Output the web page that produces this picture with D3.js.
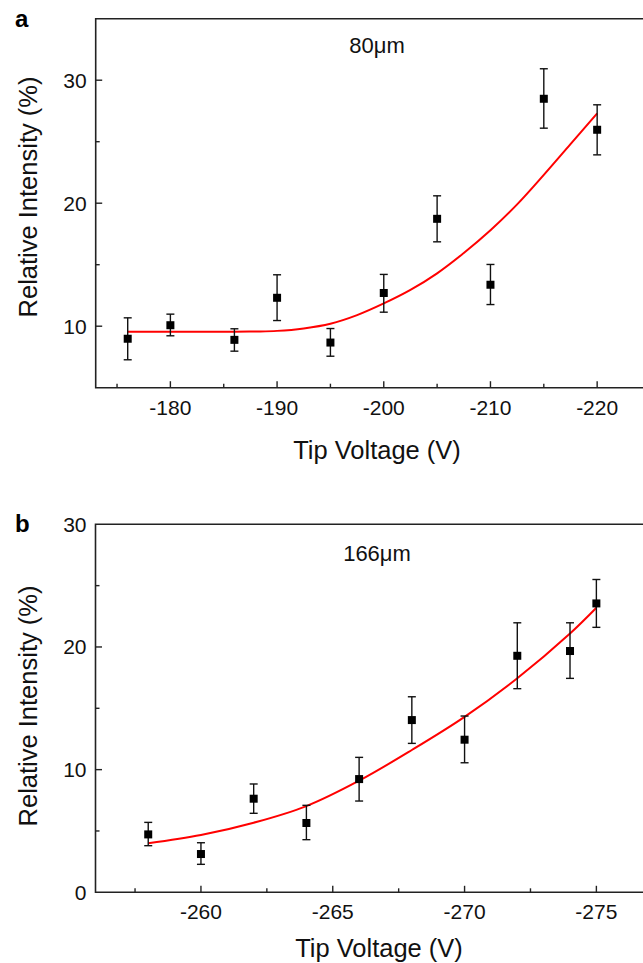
<!DOCTYPE html>
<html>
<head>
<meta charset="utf-8">
<script src="https://cdn.jsdelivr.net/npm/d3@7"></script>
<style>
  body { margin: 0; background: #fff; }
  svg { display: block; font-family: "Liberation Sans", Arial, sans-serif; }
</style>
</head>
<body>
<svg id="chart" width="643" height="963"></svg>
<script>
// panel a: 80 um
const voltageA = [-176, -180, -186, -190, -195, -200, -205, -210, -215, -220];
const intensityA = [8.98, 10.08, 8.89, 12.31, 8.67, 12.7, 18.73, 13.37, 28.49, 25.97];
const errLowA = [7.27, 9.22, 7.97, 10.46, 7.56, 11.14, 16.86, 11.76, 26.1, 23.93];
const errHighA = [10.68, 10.98, 9.79, 14.18, 9.81, 14.21, 20.6, 15.02, 30.93, 28.0];
const fitVoltageA = [-176, -186, -188, -190, -192.5, -195, -197.5, -200, -202.5, -205, -207.5, -210, -212.5, -215, -217.5, -220];
const fitIntensityA = [9.55, 9.55, 9.57, 9.62, 9.82, 10.2, 10.9, 11.85, 12.95, 14.3, 15.95, 17.8, 19.9, 22.3, 24.8, 27.3];
const xTicksA = [-180, -190, -200, -210, -220];
const yTicksA = [10, 20, 30];

// panel b: 166 um
const voltageB = [-258, -260, -262, -264, -266, -268, -270, -272, -274, -275];
const intensityB = [4.72, 3.12, 7.63, 5.65, 9.23, 14.04, 12.44, 19.28, 19.67, 23.55];
const errLowB = [3.8, 2.28, 6.44, 4.29, 7.44, 12.14, 10.56, 16.6, 17.44, 21.6];
const errHighB = [5.7, 4.04, 8.83, 7.09, 11.0, 15.94, 14.37, 21.97, 21.97, 25.5];
const fitVoltageB = [-258, -260, -262, -264, -266, -268, -270, -272, -274, -275];
const fitIntensityB = [4.0, 4.67, 5.67, 7.03, 9.1, 11.6, 14.3, 17.45, 21.1, 23.2];
const xTicksB = [-260, -265, -270, -275];
const yTicksB = [0, 10, 20, 30];

const svg = d3.select("#chart");
const axisColor = "#222";
const fitColor = "#ff0000";

function drawPanel(p) {
    const g = svg.append("g");
    const x = d3.scaleLinear().domain(p.xDomain).range([p.left, p.right]);
    const y = d3.scaleLinear().domain(p.yDomain).range([p.bottom, p.top]);

    // frame: left, top and bottom (right side runs off the page)
    g.append("path")
        .attr("d", `M${p.right},${p.top}H${p.left}V${p.bottom}H${p.right}`)
        .attr("fill", "none")
        .attr("stroke", axisColor)
        .attr("stroke-width", 1.6);

    // x ticks, pointing inwards (minor ticks halfway between labels)
    const half = p.xStep / 2;
    const xAll = d3.range(Math.ceil(p.xDomain[1] / half) * half, p.xDomain[0], half)
        .filter(v => v > p.xDomain[1] && v < p.xDomain[0]);
    g.append("g").selectAll("line")
        .data(xAll)
        .join("line")
        .attr("x1", d => x(d)).attr("x2", d => x(d))
        .attr("y1", p.bottom)
        .attr("y2", d => p.xTicks.some(t => Math.abs(t - d) < 1e-6) ? p.bottom - 6.5 : p.bottom - 4)
        .attr("stroke", axisColor).attr("stroke-width", 1.4);
    g.append("g").selectAll("text")
        .data(p.xTicks)
        .join("text")
        .attr("x", d => x(d))
        .attr("y", p.bottom + p.xLabelDy)
        .attr("text-anchor", "middle")
        .attr("font-size", 21)
        .attr("fill", "#111")
        .text(d => String(d));

    // y ticks, pointing inwards
    const yAll = d3.range(p.yDomain[0] + 5, p.yDomain[1], 5);
    g.append("g").selectAll("line")
        .data(yAll)
        .join("line")
        .attr("x1", p.left)
        .attr("x2", d => p.yTicks.includes(d) ? p.left + 6.5 : p.left + 4)
        .attr("y1", d => y(d)).attr("y2", d => y(d))
        .attr("stroke", axisColor).attr("stroke-width", 1.4);
    g.append("g").selectAll("text")
        .data(p.yTicks)
        .join("text")
        .attr("x", p.left - 9)
        .attr("y", d => y(d) + 7.5)
        .attr("text-anchor", "end")
        .attr("font-size", 21)
        .attr("fill", "#111")
        .text(d => d);

    // axis titles
    g.append("text")
        .attr("x", p.xTitleX)
        .attr("y", p.xTitleY)
        .attr("text-anchor", "middle")
        .attr("font-size", 25.5)
        .attr("fill", "#111")
        .text("Tip Voltage (V)");
    g.append("text")
        .attr("transform", `translate(37,${p.yTitleY}) rotate(-90)`)
        .attr("text-anchor", "middle")
        .attr("font-size", 25.5)
        .attr("fill", "#111")
        .text("Relative Intensity (%)");

    // panel letter and label
    g.append("text")
        .attr("x", 15)
        .attr("y", p.letterY)
        .attr("font-size", 24)
        .attr("font-weight", "bold")
        .attr("fill", "#000")
        .text(p.letter);
    g.append("text")
        .attr("x", 377)
        .attr("y", p.labelY)
        .attr("text-anchor", "middle")
        .attr("font-size", 22)
        .attr("fill", "#111")
        .text(p.label);

    // fit curve
    const fit = p.fitX.map((v, i) => [v, p.fitY[i]]);
    g.append("path")
        .datum(fit)
        .attr("d", d3.line().x(d => x(d[0])).y(d => y(d[1])).curve(d3.curveCatmullRom))
        .attr("fill", "none")
        .attr("stroke", fitColor)
        .attr("stroke-width", 2);

    // error bars and markers
    const pts = p.xs.map((v, i) => ({ v, val: p.ys[i], lo: p.lo[i], hi: p.hi[i] }));
    const bars = g.append("g").selectAll("g")
        .data(pts)
        .join("g")
        .attr("stroke", "#111")
        .attr("stroke-width", 1.4);
    bars.append("line")
        .attr("x1", d => x(d.v)).attr("x2", d => x(d.v))
        .attr("y1", d => y(d.lo)).attr("y2", d => y(d.hi));
    bars.append("line")
        .attr("x1", d => x(d.v) - 4).attr("x2", d => x(d.v) + 4)
        .attr("y1", d => y(d.lo)).attr("y2", d => y(d.lo));
    bars.append("line")
        .attr("x1", d => x(d.v) - 4).attr("x2", d => x(d.v) + 4)
        .attr("y1", d => y(d.hi)).attr("y2", d => y(d.hi));

    g.append("g").selectAll("rect")
        .data(pts)
        .join("rect")
        .attr("x", d => x(d.v) - 4)
        .attr("y", d => y(d.val) - 4)
        .attr("width", 8)
        .attr("height", 8)
        .attr("fill", "#000");
}

drawPanel({
    letter: "a", letterY: 27, label: "80\u03bcm", labelY: 53,
    xs: voltageA, ys: intensityA, lo: errLowA, hi: errHighA,
    fitX: fitVoltageA, fitY: fitIntensityA,
    xDomain: [-173, -225], xStep: 10, xTicks: xTicksA,
    yDomain: [5, 35], yTicks: yTicksA,
    left: 95.7, right: 650.5, top: 18.7, bottom: 387.7,
    xLabelDy: 27, xTitleX: 377, xTitleY: 459, yTitleY: 197
});

drawPanel({
    letter: "b", letterY: 532, label: "166\u03bcm", labelY: 561,
    xs: voltageB, ys: intensityB, lo: errLowB, hi: errHighB,
    fitX: fitVoltageB, fitY: fitIntensityB,
    xDomain: [-256, -277], xStep: 5, xTicks: xTicksB,
    yDomain: [0, 30], yTicks: yTicksB,
    left: 95.5, right: 649.1, top: 524.3, bottom: 892.3,
    xLabelDy: 27, xTitleX: 379, xTitleY: 957, yTitleY: 706
});
</script>
</body>
</html>
